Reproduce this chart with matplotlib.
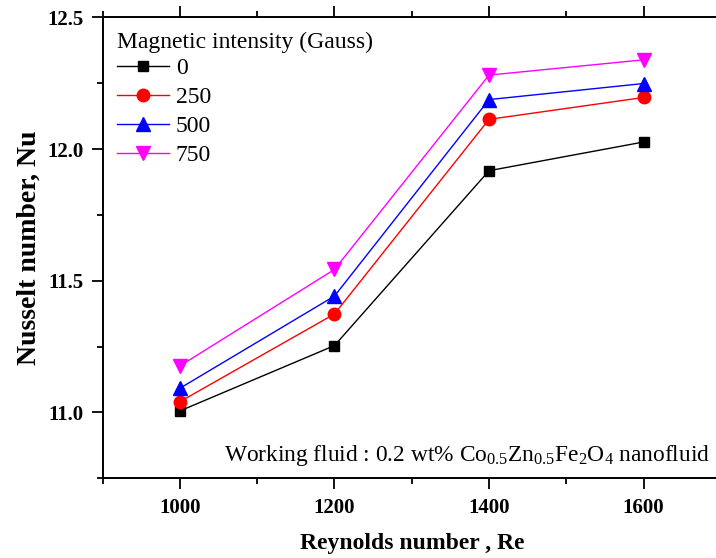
import matplotlib
matplotlib.use("Agg")
import matplotlib.pyplot as plt
from matplotlib.ticker import MultipleLocator, FormatStrFormatter

# Reynolds numbers tested
reynolds = [1000, 1200, 1400, 1600]

# Nusselt number for each magnetic field intensity (Gauss)
nu_0 = [11.006, 11.254, 11.918, 12.027]
nu_250 = [11.041, 11.374, 12.113, 12.196]
nu_500 = [11.092, 11.442, 12.188, 12.249]
nu_750 = [11.177, 11.543, 12.281, 12.339]

series_labels = ["0", "250", "500", "750"]

plt.rcParams["font.family"] = ["Liberation Serif", "DejaVu Serif"]
plt.rcParams["mathtext.fontset"] = "custom"
plt.rcParams["mathtext.rm"] = "Liberation Serif"
plt.rcParams["mathtext.it"] = "Liberation Serif:italic"
plt.rcParams["mathtext.bf"] = "Liberation Serif:bold"

fig = plt.figure(figsize=(7.16, 5.58), dpi=100)
ax = fig.add_axes([0.1434, 0.1428, 0.8634, 0.8260])

styles = [
    dict(color="black", marker="s", ms=7.5),
    dict(color="#FF0000", marker="o", ms=9),
    dict(color="#0000FF", marker="^", ms=10),
    dict(color="#FF00FF", marker="v", ms=10),
]
for vals, lab, st in zip([nu_0, nu_250, nu_500, nu_750], series_labels, styles):
    ax.plot(reynolds, vals, color=st["color"], marker=st["marker"],
            markersize=st["ms"], markerfacecolor=st["color"],
            markeredgecolor=st["color"], linewidth=1.0, label=lab)

ax.set_xlim(900, 1700)
ax.set_ylim(10.75, 12.5)
ax.xaxis.set_major_locator(MultipleLocator(200))
ax.xaxis.set_minor_locator(MultipleLocator(100))
ax.yaxis.set_major_locator(MultipleLocator(0.5))
ax.yaxis.set_minor_locator(MultipleLocator(0.25))
ax.yaxis.set_major_formatter(FormatStrFormatter("%.1f"))

ax.tick_params(which="both", direction="out", top=True, right=True, width=1.3)
ax.tick_params(which="major", length=8, labelsize=15, pad=6)
ax.tick_params(which="minor", length=4.5)
for lbl in ax.get_xticklabels() + ax.get_yticklabels():
    lbl.set_fontweight("bold")
for sp in ax.spines.values():
    sp.set_linewidth(1.4)

ax.set_xlabel("Reynolds number , Re", fontsize=17, fontweight="bold", labelpad=11)
ax.set_ylabel("Nusselt number, Nu", fontsize=20, fontweight="bold", labelpad=4)

leg = ax.legend(title="Magnetic intensity (Gauss)", loc="upper left",
                frameon=False, fontsize=17, title_fontsize=17,
                alignment="left", handlelength=2.2, handletextpad=0.3,
                labelspacing=0.32, borderaxespad=0.3, borderpad=0.3)
# tighten the gap between the legend title and its first entry
leg._legend_box.sep = 3.5

ax.text(0.983, 0.022,
        r"Working fluid : 0.2 wt% Co$_{0.5}$Zn$_{0.5}$Fe$_2$O$_4$ nanofluid",
        transform=ax.transAxes, ha="right", va="bottom", fontsize=16.8)

fig.savefig("out.png", dpi=100)
